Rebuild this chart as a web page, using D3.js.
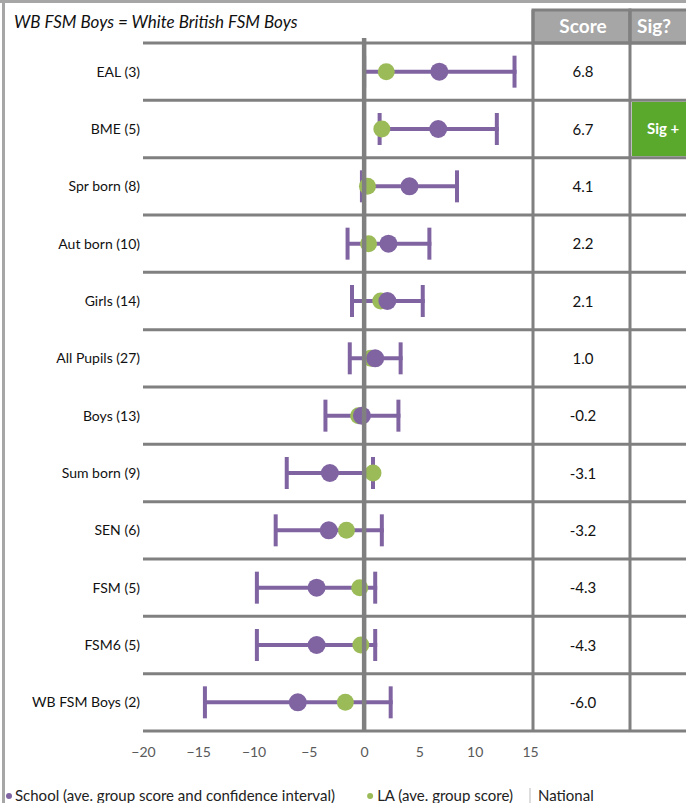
<!DOCTYPE html>
<html>
<head>
<meta charset="utf-8">
<script src="https://cdn.jsdelivr.net/npm/d3@7/dist/d3.min.js"></script>
<style>
  html, body { margin: 0; padding: 0; background: #fff; }
  svg { display: block; font-family: Lato, "Open Sans", sans-serif; }
</style>
</head>
<body>
<svg id="chart" width="686" height="803"></svg>
<script>
// Pupil groups with number of pupils
const categories = ["EAL (3)", "BME (5)", "Spr born (8)", "Aut born (10)", "Girls (14)",
  "All Pupils (27)", "Boys (13)", "Sum born (9)", "SEN (6)", "FSM (5)", "FSM6 (5)", "WB FSM Boys (2)"];
// School average group score and confidence interval
const schoolScore = [6.8, 6.7, 4.1, 2.2, 2.1, 1.0, -0.2, -3.1, -3.2, -4.3, -4.3, -6.0];
const ciLower = [0.0, 1.4, -0.2, -1.5, -1.1, -1.3, -3.5, -7.0, -8.0, -9.7, -9.7, -14.4];
const ciUpper = [13.6, 12.0, 8.4, 5.9, 5.3, 3.3, 3.1, 0.8, 1.6, 1.0, 1.0, 2.4];
// LA average group score
const laScore = [2.0, 1.6, 0.3, 0.4, 1.5, 0.6, -0.5, 0.8, -1.6, -0.4, -0.3, -1.7];
// Significance flag
const sigFlag = ["", "Sig +", "", "", "", "", "", "", "", "", "", ""];
const xTicks = [-20, -15, -10, -5, 0, 5, 10, 15];
const nationalValue = 0;

const purple = "#8064a2", green = "#9bbb59", grid = "#808080";
const svg = d3.select("#chart");

const x = d3.scaleLinear().domain([-20, 15]).range([143, 530]);
const y = d3.scaleBand().domain(categories).range([43, 731]);
const cy = d => y(d) + y.bandwidth() / 2;

// outer frame
svg.append("rect").attr("x", 0).attr("y", 0).attr("width", 686).attr("height", 3).attr("fill", "#a6a6a6");
svg.append("rect").attr("x", 2).attr("y", 0).attr("width", 3).attr("height", 803).attr("fill", "#a6a6a6");

// title
svg.append("text").attr("x", 14).attr("y", 28)
  .attr("font-size", 17).attr("font-style", "italic").attr("fill", "#111")
  .text("WB FSM Boys = White British FSM Boys");

// header cells
const headers = [{ t: "Score", x0: 533, x1: 630 }, { t: "Sig?", x0: 630, x1: 700 }];
headers.forEach(h => {
  svg.append("rect").attr("x", h.x0).attr("y", 10).attr("width", h.x1 - h.x0).attr("height", 33)
    .attr("fill", "#a6a6a6").attr("stroke", grid).attr("stroke-width", 3);
});
svg.append("text").attr("x", 583).attr("y", 33).attr("text-anchor", "middle")
  .attr("font-size", 19).attr("font-weight", "bold").attr("fill", "#fff").text("Score");
svg.append("text").attr("x", 637).attr("y", 33)
  .attr("font-size", 19).attr("font-weight", "bold").attr("fill", "#fff").text("Sig?");

// significance cells
categories.forEach((c, i) => {
  if (sigFlag[i]) {
    svg.append("rect").attr("x", 632).attr("y", y(c) + 1.5).attr("width", 60).attr("height", y.bandwidth() - 3)
      .attr("fill", "#5aa92c");
    svg.append("text").attr("x", 647).attr("y", cy(c) + 5)
      .attr("font-size", 15).attr("font-weight", "bold").attr("fill", "#fff").text(sigFlag[i]);
  }
});

// row separators
const bounds = categories.map(c => y(c)).concat([y.range()[1]]);
svg.selectAll(".rowline").data(bounds).join("line")
  .attr("x1", 143).attr("x2", 686).attr("y1", d => d).attr("y2", d => d)
  .attr("stroke", grid).attr("stroke-width", 3);
// score column borders
[533, 630].forEach(v => svg.append("line").attr("x1", v).attr("x2", v).attr("y1", 10).attr("y2", 731)
  .attr("stroke", grid).attr("stroke-width", 3));

// row labels
svg.selectAll(".lab").data(categories).join("text")
  .attr("x", 140).attr("y", d => cy(d) + 5).attr("text-anchor", "end")
  .attr("font-size", 14).attr("fill", "#111").text(d => d);

// score values
svg.selectAll(".score").data(categories).join("text")
  .attr("x", 583).attr("y", d => cy(d) + 5.5).attr("text-anchor", "middle")
  .attr("font-size", 15).attr("fill", "#111").text((d, i) => schoolScore[i].toFixed(1));

// confidence intervals
const g = svg.append("g");
categories.forEach((c, i) => {
  g.append("line").attr("x1", x(ciLower[i])).attr("x2", x(ciUpper[i]) + 2)
    .attr("y1", cy(c)).attr("y2", cy(c)).attr("stroke", purple).attr("stroke-width", 4);
  [ciLower[i], ciUpper[i]].forEach(v => g.append("line").attr("x1", x(v)).attr("x2", x(v))
    .attr("y1", cy(c) - 16).attr("y2", cy(c) + 16).attr("stroke", purple).attr("stroke-width", 4));
});
// LA dots
g.selectAll(".la").data(categories).join("circle")
  .attr("cx", (d, i) => x(laScore[i])).attr("cy", d => cy(d)).attr("r", 8.5).attr("fill", green);
// School dots
g.selectAll(".sch").data(categories).join("circle")
  .attr("cx", (d, i) => x(schoolScore[i])).attr("cy", d => cy(d)).attr("r", 9).attr("fill", purple);

// national line
svg.append("line").attr("x1", x(nationalValue)).attr("x2", x(nationalValue)).attr("y1", 38).attr("y2", 731)
  .attr("stroke", grid).attr("stroke-width", 4.5);

// x axis
const xAxis = svg.append("g").attr("transform", "translate(0,752)")
  .call(d3.axisBottom(x).tickValues(xTicks).tickSize(0).tickPadding(0).tickFormat(d3.format("d")));
xAxis.select(".domain").remove();
xAxis.selectAll("text").attr("font-size", 14).attr("fill", "#595959")
  .attr("font-family", "Lato, sans-serif").attr("dy", "0.35em");

// legend
const lg = svg.append("g").attr("font-size", 15).attr("fill", "#222");
lg.append("circle").attr("cx", 9).attr("cy", 796).attr("r", 3).attr("fill", purple);
lg.append("text").attr("x", 15).attr("y", 801).text("School (ave. group score and confidence interval)");
const laText = lg.append("text").attr("x", 513).attr("y", 801).attr("text-anchor", "end").text("LA (ave. group score)");
const laStart = 513 - laText.node().getComputedTextLength();
lg.append("circle").attr("cx", laStart - 7).attr("cy", 796).attr("r", 3).attr("fill", green);
lg.append("line").attr("x1", 530).attr("x2", 530).attr("y1", 788).attr("y2", 803).attr("stroke", "#bbb").attr("stroke-width", 1);
lg.append("text").attr("x", 538).attr("y", 801).text("National");
</script>
</body>
</html>
